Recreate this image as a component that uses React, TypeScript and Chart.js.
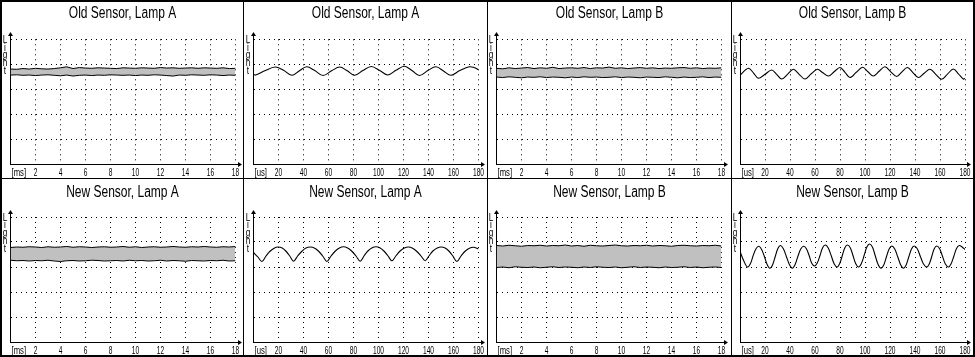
import React, { useEffect, useRef } from "react";
import { Chart, registerables } from "chart.js";

Chart.register(...registerables);

const FONT = "'Liberation Sans', Arial, sans-serif";

const TITLES = [
  "Old Sensor, Lamp A",
  "Old Sensor, Lamp A",
  "Old Sensor, Lamp B",
  "Old Sensor, Lamp B",
  "New Sensor, Lamp A",
  "New Sensor, Lamp A",
  "New Sensor, Lamp B",
  "New Sensor, Lamp B",
];
const Y_LABEL = ["L", "i", "g", "h", "t"];
const MS_UNIT = "[ms]";
const US_UNIT = "[us]";
const MS_MAX = 18;
const MS_STEP = 2;
const US_MAX = 180;
const US_STEP = 20;
const Y_MAX = 5;

// ---- millisecond captures (envelope of the fast ripple) ----
const MS_TIME = [0, 0.5, 1, 1.5, 2, 2.5, 3, 3.5, 4, 4.5, 5, 5.5, 6, 6.5, 7, 7.5, 8, 8.5, 9, 9.5, 10, 10.5, 11, 11.5, 12, 12.5, 13, 13.5, 14, 14.5, 15, 15.5, 16, 16.5, 17, 17.5, 18];

const OLD_A_MS_HIGH = [3.81, 3.8, 3.83, 3.81, 3.84, 3.82, 3.81, 3.83, 3.86, 3.9, 3.83, 3.87, 3.85, 3.84, 3.86, 3.85, 3.84, 3.83, 3.86, 3.85, 3.84, 3.86, 3.85, 3.84, 3.87, 3.85, 3.86, 3.84, 3.85, 3.86, 3.84, 3.86, 3.85, 3.84, 3.86, 3.83, 3.84];
const OLD_A_MS_LOW = [3.57, 3.58, 3.56, 3.57, 3.55, 3.57, 3.58, 3.56, 3.54, 3.57, 3.53, 3.56, 3.57, 3.55, 3.57, 3.56, 3.58, 3.57, 3.56, 3.57, 3.55, 3.57, 3.56, 3.58, 3.57, 3.55, 3.53, 3.57, 3.56, 3.58, 3.57, 3.56, 3.58, 3.57, 3.55, 3.57, 3.56];

const OLD_B_MS_HIGH = [3.84, 3.82, 3.86, 3.83, 3.85, 3.87, 3.83, 3.86, 3.84, 3.88, 3.83, 3.85, 3.86, 3.84, 3.87, 3.83, 3.86, 3.85, 3.89, 3.84, 3.86, 3.83, 3.85, 3.87, 3.84, 3.86, 3.83, 3.85, 3.84, 3.86, 3.87, 3.84, 3.86, 3.83, 3.85, 3.84, 3.86];
const OLD_B_MS_LOW = [3.49, 3.47, 3.5, 3.48, 3.46, 3.49, 3.48, 3.5, 3.47, 3.49, 3.48, 3.46, 3.49, 3.47, 3.5, 3.48, 3.49, 3.47, 3.48, 3.5, 3.47, 3.49, 3.48, 3.46, 3.49, 3.48, 3.47, 3.5, 3.48, 3.46, 3.49, 3.47, 3.48, 3.5, 3.47, 3.49, 3.48];

const NEW_A_MS_HIGH = [3.78, 3.8, 3.79, 3.81, 3.8, 3.78, 3.81, 3.79, 3.8, 3.82, 3.79, 3.81, 3.8, 3.78, 3.8, 3.81, 3.79, 3.8, 3.82, 3.79, 3.81, 3.78, 3.8, 3.81, 3.79, 3.8, 3.82, 3.8, 3.79, 3.81, 3.8, 3.82, 3.8, 3.79, 3.81, 3.8, 3.82];
const NEW_A_MS_LOW = [3.27, 3.25, 3.26, 3.24, 3.26, 3.25, 3.27, 3.24, 3.22, 3.25, 3.26, 3.24, 3.25, 3.27, 3.26, 3.24, 3.25, 3.26, 3.24, 3.27, 3.25, 3.26, 3.24, 3.25, 3.27, 3.24, 3.26, 3.25, 3.23, 3.26, 3.25, 3.24, 3.26, 3.25, 3.27, 3.24, 3.25];

const NEW_B_MS_HIGH = [3.86, 3.84, 3.87, 3.85, 3.83, 3.86, 3.85, 3.87, 3.84, 3.86, 3.85, 3.88, 3.84, 3.86, 3.83, 3.87, 3.85, 3.84, 3.86, 3.88, 3.85, 3.84, 3.86, 3.85, 3.87, 3.84, 3.86, 3.85, 3.83, 3.86, 3.87, 3.85, 3.84, 3.86, 3.85, 3.87, 3.84];
const NEW_B_MS_LOW = [2.98, 3.0, 2.97, 3.01, 2.99, 2.98, 3.0, 2.97, 2.99, 3.01, 2.98, 3.0, 2.99, 2.97, 3.0, 2.98, 3.01, 2.99, 2.98, 3.0, 2.97, 2.99, 3.01, 2.98, 3.0, 2.99, 2.97, 3.0, 2.98, 2.99, 3.01, 2.98, 3.0, 2.97, 2.99, 3.0, 2.98];

// ---- microsecond captures (single ripple trace) ----
const OLD_A_US_TIME = [0, 1.5, 9, 17.3, 24, 30.6, 36.5, 42.5, 49, 55.7, 62.5, 69, 75, 81, 87.5, 94.3, 101, 107.5, 114, 120.8, 127, 132.7, 139.5, 146, 152, 158, 165, 172.6, 177, 180];
const OLD_A_US_VALUE = [3.6, 3.57, 3.74, 3.89, 3.76, 3.56, 3.73, 3.9, 3.75, 3.55, 3.74, 3.89, 3.74, 3.56, 3.75, 3.91, 3.75, 3.57, 3.76, 3.92, 3.74, 3.55, 3.75, 3.9, 3.73, 3.56, 3.75, 3.9, 3.86, 3.78];

const OLD_B_US_TIME = [0, 6.7, 10.7, 14.7, 20, 25.3, 29.3, 33.3, 38, 42.7, 47.3, 52, 57, 61.9, 66.3, 70.7, 75.3, 80, 84, 88, 93, 98.1, 102.4, 106.7, 111.3, 116, 120.6, 125.3, 129.6, 133.9, 138.3, 142.7, 147.3, 152, 156.6, 161.3, 166, 170.7, 174.7, 178.7, 180];
const OLD_B_US_VALUE = [3.56, 3.84, 3.66, 3.44, 3.6, 3.77, 3.6, 3.41, 3.6, 3.8, 3.6, 3.41, 3.62, 3.8, 3.66, 3.53, 3.7, 3.87, 3.68, 3.47, 3.68, 3.88, 3.7, 3.53, 3.72, 3.9, 3.7, 3.51, 3.7, 3.87, 3.67, 3.47, 3.64, 3.8, 3.6, 3.4, 3.61, 3.81, 3.62, 3.41, 3.43];

const NEW_A_US_TIME = [0, 3.5, 6.7, 10, 13, 16.5, 19.5, 23, 26, 29, 32, 35.3, 38.7, 42, 45.5, 49, 52.3, 55.5, 58.7, 62, 65.3, 68.7, 72, 75.3, 78.7, 82, 85.3, 88.5, 91.5, 95, 98, 101, 104.5, 107.5, 110.7, 114, 117.3, 120.7, 124, 127.3, 130.7, 134, 137.3, 140.5, 143.5, 147, 150, 153.3, 156.5, 159.5, 162.7, 166, 169.3, 172.7, 176, 180];
const NEW_A_US_VALUE = [3.58, 3.4, 3.22, 3.44, 3.62, 3.75, 3.8, 3.76, 3.63, 3.44, 3.23, 3.44, 3.63, 3.76, 3.8, 3.75, 3.62, 3.43, 3.22, 3.44, 3.63, 3.76, 3.81, 3.76, 3.63, 3.44, 3.23, 3.45, 3.64, 3.77, 3.81, 3.77, 3.63, 3.45, 3.25, 3.45, 3.64, 3.76, 3.8, 3.75, 3.62, 3.44, 3.25, 3.45, 3.64, 3.76, 3.8, 3.76, 3.63, 3.44, 3.22, 3.44, 3.63, 3.75, 3.79, 3.73];

const NEW_B_US_TIME = [0, 3, 5.9, 8.2, 10.5, 12.8, 15.1, 17.3, 19.5, 21.7, 23.9, 26.1, 28.2, 30.3, 32.4, 34.7, 37.1, 39.5, 41.8, 44.1, 46.4, 48.7, 51, 53.1, 55.3, 57.4, 59.6, 61.8, 64, 66.1, 68.3, 70.6, 73, 75.3, 77.7, 79.7, 81.8, 83.9, 86, 88.2, 90.4, 92.6, 94.9, 97.1, 99.3, 101.5, 103.7, 106, 108.2, 110.5, 112.8, 115, 117.1, 119.3, 121.5, 123.8, 126.1, 128.5, 130.8, 132.9, 135, 137.2, 139.3, 141.8, 144.3, 146.8, 149.4, 151.4, 153.4, 155.4, 157.4, 159.7, 162, 164.3, 166.7, 168.8, 171, 173.2, 175.4, 177.7, 180];
const NEW_B_US_VALUE = [3.62, 3.25, 3.0, 3.12, 3.45, 3.73, 3.83, 3.7, 3.42, 3.1, 2.95, 3.09, 3.42, 3.74, 3.86, 3.73, 3.42, 3.1, 2.95, 3.1, 3.44, 3.73, 3.83, 3.73, 3.46, 3.15, 3.04, 3.16, 3.46, 3.77, 3.88, 3.76, 3.45, 3.13, 3.0, 3.13, 3.45, 3.77, 3.88, 3.77, 3.46, 3.13, 3.0, 3.14, 3.46, 3.8, 3.92, 3.79, 3.45, 3.1, 2.95, 3.08, 3.4, 3.72, 3.84, 3.72, 3.42, 3.09, 2.95, 3.08, 3.4, 3.72, 3.84, 3.73, 3.42, 3.12, 3.0, 3.12, 3.42, 3.73, 3.84, 3.73, 3.43, 3.12, 3.0, 3.12, 3.42, 3.74, 3.86, 3.8, 3.7];

// ---- layout (pixels) ----
const COL_LEFT = [2, 244, 488, 732];
const COL_WIDTH = [241, 243, 243, 241];
const ROW_TOP = [2, 179];
const ROW_HEIGHT = [176, 176];
const AXIS_X = [10.5, 253.5, 496.5, 740];
const PLOT_W = 225;
const PLOT_TOP = [39.3, 217];
const PLOT_H = [125, 125];
const TITLE_Y = [13.2, 192.5];
const XAXIS_H = 16;

type Panel = {
  title: string;
  unit: string;
  xMax: number;
  xStep: number;
  time: number[];
  high?: number[];
  low?: number[];
  value?: number[];
};

const PANELS: Panel[] = [
  { title: TITLES[0], unit: MS_UNIT, xMax: MS_MAX, xStep: MS_STEP, time: MS_TIME, high: OLD_A_MS_HIGH, low: OLD_A_MS_LOW },
  { title: TITLES[1], unit: US_UNIT, xMax: US_MAX, xStep: US_STEP, time: OLD_A_US_TIME, value: OLD_A_US_VALUE },
  { title: TITLES[2], unit: MS_UNIT, xMax: MS_MAX, xStep: MS_STEP, time: MS_TIME, high: OLD_B_MS_HIGH, low: OLD_B_MS_LOW },
  { title: TITLES[3], unit: US_UNIT, xMax: US_MAX, xStep: US_STEP, time: OLD_B_US_TIME, value: OLD_B_US_VALUE },
  { title: TITLES[4], unit: MS_UNIT, xMax: MS_MAX, xStep: MS_STEP, time: MS_TIME, high: NEW_A_MS_HIGH, low: NEW_A_MS_LOW },
  { title: TITLES[5], unit: US_UNIT, xMax: US_MAX, xStep: US_STEP, time: NEW_A_US_TIME, value: NEW_A_US_VALUE },
  { title: TITLES[6], unit: MS_UNIT, xMax: MS_MAX, xStep: MS_STEP, time: MS_TIME, high: NEW_B_MS_HIGH, low: NEW_B_MS_LOW },
  { title: TITLES[7], unit: US_UNIT, xMax: US_MAX, xStep: US_STEP, time: NEW_B_US_TIME, value: NEW_B_US_VALUE },
];

function condensedText(ctx: CanvasRenderingContext2D, text: string, x: number, y: number, sx: number, align: CanvasTextAlign) {
  ctx.save();
  ctx.translate(x, y);
  ctx.scale(sx, 1);
  ctx.textAlign = align;
  ctx.fillText(text, 0, 0);
  ctx.restore();
}

const decorPlugin = {
  id: "scopeDecor",
  afterDraw(chart: any) {
    const { ctx, chartArea: a } = chart;
    const o = chart.options.plugins.scopeDecor;
    const ax = Math.round(a.left - 0.5) + 0.5;
    const ay = Math.round(a.bottom - 0.5) + 0.5;
    const top = Math.round(a.top);
    const right = Math.round(a.right);
    ctx.save();
    ctx.strokeStyle = "#000";
    ctx.fillStyle = "#000";
    ctx.lineWidth = 1;
    // y axis arrow
    ctx.beginPath();
    ctx.moveTo(ax, top + 1);
    ctx.lineTo(ax, top - 5);
    ctx.stroke();
    ctx.beginPath();
    ctx.moveTo(ax, top - 7);
    ctx.lineTo(ax - 2.5, top - 3);
    ctx.lineTo(ax + 2.5, top - 3);
    ctx.closePath();
    ctx.fill();
    // x axis arrow
    ctx.beginPath();
    ctx.moveTo(right - 1, ay);
    ctx.lineTo(right + 4, ay);
    ctx.stroke();
    ctx.beginPath();
    ctx.moveTo(right + 6, ay);
    ctx.lineTo(right + 2, ay - 2.5);
    ctx.lineTo(right + 2, ay + 2.5);
    ctx.closePath();
    ctx.fill();

    ctx.textBaseline = "middle";
    // title
    ctx.font = `16px ${FONT}`;
    condensedText(ctx, o.title, chart.width / 2, o.titleY, 0.75, "center");
    // stacked axis name
    ctx.font = `11px ${FONT}`;
    Y_LABEL.forEach((ch, i) => {
      condensedText(ctx, ch, ax - 5.5, a.top + 0.5 + i * 7.8, 0.75, "center");
    });
    // tick labels from the x scale
    const xs = chart.scales.x;
    ctx.font = `11px ${FONT}`;
    xs.ticks.forEach((t: any) => {
      if (t.value === 0) return;
      condensedText(ctx, String(t.value), xs.getPixelForValue(t.value), a.bottom + 8.5, 0.6, "center");
    });
    // unit label
    condensedText(ctx, o.unit, ax + 1, a.bottom + 8.5, 0.7, "left");
    ctx.restore();
  },
};

function ScopePanel({ panel, index }: { panel: Panel; index: number }) {
  const ref = useRef<HTMLCanvasElement>(null);
  const col = index % 4;
  const row = Math.floor(index / 4);
  const w = COL_WIDTH[col];
  const h = ROW_HEIGHT[row];

  useEffect(() => {
    if (!ref.current) return;
    const padLeft = AXIS_X[col] - COL_LEFT[col];
    const padRight = w - (padLeft + PLOT_W);
    const plotTop = PLOT_TOP[row] - ROW_TOP[row];
    const padBottom = h - (plotTop + PLOT_H[row]) - XAXIS_H;

    const pts = (ys: number[]) => panel.time.map((t, i) => ({ x: t, y: ys[i] }));
    const datasets: any[] = [];
    if (panel.value) {
      datasets.push({
        data: pts(panel.value),
        borderColor: "#000",
        borderWidth: 1.1,
        pointRadius: 0,
        tension: 0.35,
        fill: false,
      });
    } else {
      datasets.push({
        data: pts(panel.high!),
        borderColor: "#000",
        borderWidth: 1,
        pointRadius: 0,
        tension: 0,
        fill: false,
      });
      datasets.push({
        data: pts(panel.low!),
        borderColor: "#000",
        borderWidth: 1,
        pointRadius: 0,
        tension: 0,
        fill: "-1",
        backgroundColor: "#c0c0c0",
      });
    }

    const gridOpts = { color: "#000", lineWidth: 1, drawTicks: false };
    const borderOpts = { display: true, color: "#000", width: 1, dash: [1, 4] };

    const chart = new Chart(ref.current, {
      type: "line",
      data: { datasets },
      plugins: [decorPlugin],
      options: {
        animation: false,
        responsive: false,
        devicePixelRatio: 1,
        events: [],
        layout: { padding: { left: padLeft, right: padRight, top: plotTop, bottom: padBottom } },
        plugins: {
          legend: { display: false },
          tooltip: { enabled: false },
          title: { display: false },
          scopeDecor: { unit: panel.unit, title: panel.title, titleY: TITLE_Y[row] - ROW_TOP[row] },
        } as any,
        scales: {
          x: {
            type: "linear",
            min: 0,
            max: panel.xMax,
            ticks: { stepSize: panel.xStep, autoSkip: false, display: false },
            grid: gridOpts,
            border: borderOpts,
            afterFit: (s: any) => {
              s.height = XAXIS_H;
            },
          } as any,
          y: {
            min: 0,
            max: Y_MAX,
            ticks: { stepSize: 1, display: false },
            grid: gridOpts,
            border: borderOpts,
            afterFit: (s: any) => {
              s.width = 0;
            },
          } as any,
        },
      },
    });
    return () => chart.destroy();
  }, []);

  return (
    <canvas
      ref={ref}
      width={w}
      height={h}
      style={{ position: "absolute", left: COL_LEFT[col], top: ROW_TOP[row], width: w, height: h, display: "block" }}
    />
  );
}

export default function App() {
  return (
    <div style={{ position: "absolute", left: 0, top: 0, width: 975, height: 357, background: "#fff", overflow: "hidden" }}>
      {PANELS.map((p, i) => (
        <ScopePanel key={i} panel={p} index={i} />
      ))}
      {[243, 487, 731].map((x) => (
        <div key={x} style={{ position: "absolute", left: x, top: 0, width: 1, height: 357, background: "#000" }} />
      ))}
      <div style={{ position: "absolute", left: 0, top: 178, width: 975, height: 1, background: "#000" }} />
      <div style={{ position: "absolute", left: 0, top: 0, width: 975, height: 357, border: "2px solid #000", boxSizing: "border-box", pointerEvents: "none" }} />
    </div>
  );
}
